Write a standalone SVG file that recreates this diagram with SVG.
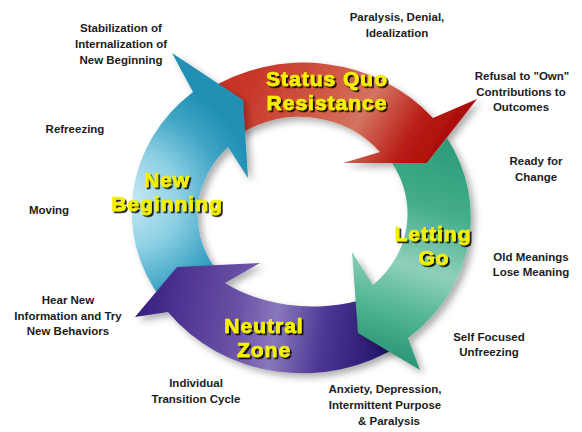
<svg xmlns="http://www.w3.org/2000/svg" width="582" height="432" viewBox="0 0 582 432">
<style>
.lbl{font-family:"Liberation Sans",Arial,sans-serif;font-size:11.5px;font-weight:bold;fill:#1c1c1c;text-anchor:middle}
.ttl{font-family:"Liberation Sans",Arial,sans-serif;font-size:21px;font-weight:bold;letter-spacing:1px;fill:#f4f000;stroke:#f4f000;stroke-width:0.7;text-anchor:middle;filter:url(#ts)}
.arr{filter:url(#sh)}
</style>
<defs>
<filter id="sh" x="-20%" y="-20%" width="150%" height="150%">
<feDropShadow dx="4" dy="4" stdDeviation="3.5" flood-color="#000" flood-opacity="0.32"/>
</filter>
<filter id="ts" x="-10%" y="-20%" width="130%" height="150%">
<feDropShadow dx="1.8" dy="1.8" stdDeviation="0.4" flood-color="#000" flood-opacity="0.9"/>
</filter>
<linearGradient id="gRed" gradientUnits="userSpaceOnUse" x1="260" y1="60" x2="440" y2="170">
<stop offset="0" stop-color="#c83428"/>
<stop offset="0.35" stop-color="#cf5a46"/>
<stop offset="0.55" stop-color="#d47462"/>
<stop offset="0.8" stop-color="#b81c14"/>
<stop offset="1" stop-color="#a80a0a"/>
</linearGradient>
<linearGradient id="gGreen" gradientUnits="userSpaceOnUse" x1="450" y1="140" x2="380" y2="370">
<stop offset="0" stop-color="#2a9a78"/>
<stop offset="0.3" stop-color="#45ae8c"/>
<stop offset="0.55" stop-color="#8fd0b8"/>
<stop offset="0.75" stop-color="#50b593"/>
<stop offset="1" stop-color="#1f8c6c"/>
</linearGradient>
<linearGradient id="gPurple" gradientUnits="userSpaceOnUse" x1="390" y1="330" x2="140" y2="290">
<stop offset="0" stop-color="#24156a"/>
<stop offset="0.25" stop-color="#4a3592"/>
<stop offset="0.45" stop-color="#8a78bc"/>
<stop offset="0.6" stop-color="#6a52a6"/>
<stop offset="0.85" stop-color="#4c3290"/>
<stop offset="1" stop-color="#35207e"/>
</linearGradient>
<radialGradient id="gBlue" gradientUnits="userSpaceOnUse" cx="130" cy="200" r="125">
<stop offset="0" stop-color="#c8eaf4"/>
<stop offset="0.4" stop-color="#8ccfe3"/>
<stop offset="0.75" stop-color="#3ea4c4"/>
<stop offset="1" stop-color="#2090b4"/>
</radialGradient>
</defs>
<rect width="582" height="432" fill="#ffffff"/>
<g id="cycle">
<g id="status-quo">
<path class="arr" fill="url(#gRed)" d="M 206 91 A 169 155 0 0 1 433 118 L 477 99 L 427 163 L 343 163 L 380 152 A 104 96 0 0 0 240 134 Z"/>
<text class="ttl" x="327" y="86">Status Quo</text>
<text class="ttl" x="327" y="110">Resistance</text>
</g>
<g id="new-beginning">
<path class="arr" fill="url(#gBlue)" d="M 162 300 A 169 155 0 0 1 193 92 L 172 53 L 243 100 L 248 178 L 228 147 A 104 96 0 0 0 215 268 Z"/>
<text class="ttl" x="167" y="187">New</text>
<text class="ttl" x="167" y="211">Beginning</text>
</g>
<g id="neutral-zone">
<path class="arr" fill="url(#gPurple)" d="M 400 345 A 169 155 0 0 1 168 312 L 135 317 L 177 267 L 260 263 L 225 283 A 130 90 0 0 0 357 301 Z"/>
<text class="ttl" x="264" y="333">Neutral</text>
<text class="ttl" x="264" y="357">Zone</text>
</g>
<g id="letting-go">
<path class="arr" fill="url(#gGreen)" d="M 447 138 A 169 155 0 0 1 408 338 L 420 370 L 358 333 L 352 252 L 373 285 A 104 96 0 0 0 392 163 L 427 163 Z"/>
<text class="ttl" x="433" y="241">Letting</text>
<text class="ttl" x="434" y="265">Go</text>
</g>
</g>
<g id="labels">
<text class="lbl" x="121" y="32">Stabilization of<tspan x="121" dy="16">Internalization of</tspan><tspan x="121" dy="16">New Beginning</tspan></text>
<text class="lbl" x="75" y="133">Refreezing</text>
<text class="lbl" x="49" y="214">Moving</text>
<text class="lbl" x="68" y="304">Hear New<tspan x="68" dy="15.5">Information and Try</tspan><tspan x="68" dy="15.5">New Behaviors</tspan></text>
<text class="lbl" x="196" y="387">Individual<tspan x="196" dy="15.5">Transition Cycle</tspan></text>
<text class="lbl" x="385" y="393">Anxiety, Depression,<tspan x="385" dy="16">Intermittent Purpose</tspan><tspan x="389" dy="16">&amp; Paralysis</tspan></text>
<text class="lbl" x="397" y="21">Paralysis, Denial,<tspan x="397" dy="15.5">Idealization</tspan></text>
<text class="lbl" x="522" y="80">Refusal to "Own"<tspan x="521" dy="15.5">Contributions to</tspan><tspan x="521" dy="15.5">Outcomes</tspan></text>
<text class="lbl" x="536" y="165">Ready for<tspan x="536" dy="15.5">Change</tspan></text>
<text class="lbl" x="531" y="261">Old Meanings<tspan x="531" dy="15">Lose Meaning</tspan></text>
<text class="lbl" x="489" y="341">Self Focused<tspan x="489" dy="15">Unfreezing</tspan></text>
</g>
</svg>
